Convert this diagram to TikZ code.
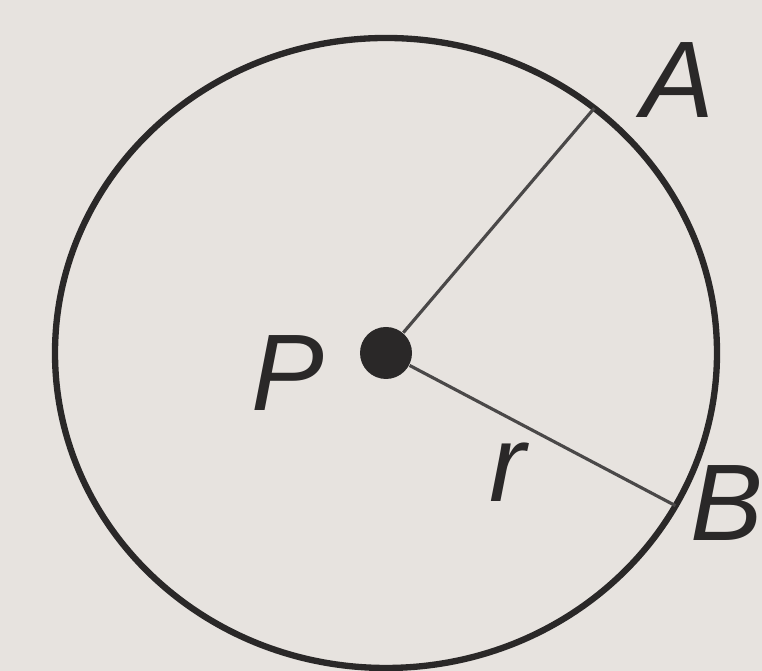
\documentclass[tikz,border=0pt]{standalone}
\usepackage{fontspec}
\setsansfont{Liberation Sans}
\definecolor{papel}{RGB}{231,227,223}
\definecolor{tinta}{RGB}{42,40,40}
\begin{document}
\begin{tikzpicture}[dot/.style={circle, fill=tinta, inner sep=0pt, minimum size=0.52cm},
                    letra/.style={font=\sffamily\itshape\fontsize{31}{32}\selectfont, text=tinta},
                    radio/.style={draw=tinta!85, line width=0.9pt}]
  % Fondo
  \fill[papel] (0,0) rectangle (7.62,6.71);
  \useasboundingbox (0,0) rectangle (7.62,6.71);

  % Circunferencia y puntos
  \coordinate (O) at (3.86,3.18);
  \draw[tinta, line width=1.8pt] (O) ellipse [x radius=3.31, y radius=3.15];
  \coordinate (A) at ([shift={(51:3.31 and 3.15)}]O);
  \coordinate (B) at ([shift={(-29:3.31 and 3.15)}]O);
  \node[dot] (P) at (O) {};

  % Radios
  \draw[radio] (P) -- (A);
  \draw[radio] (P) -- node[letra, pos=0.37, below=0.12cm] (r) {r} (B);

  % Etiquetas
  \node[letra] (lA) at (6.78,5.91) {A};
  \node[letra] (lB) at (7.27,1.68) {B};
  \node[letra] (lP) at (2.88,2.98) {P};
\end{tikzpicture}
\end{document}
